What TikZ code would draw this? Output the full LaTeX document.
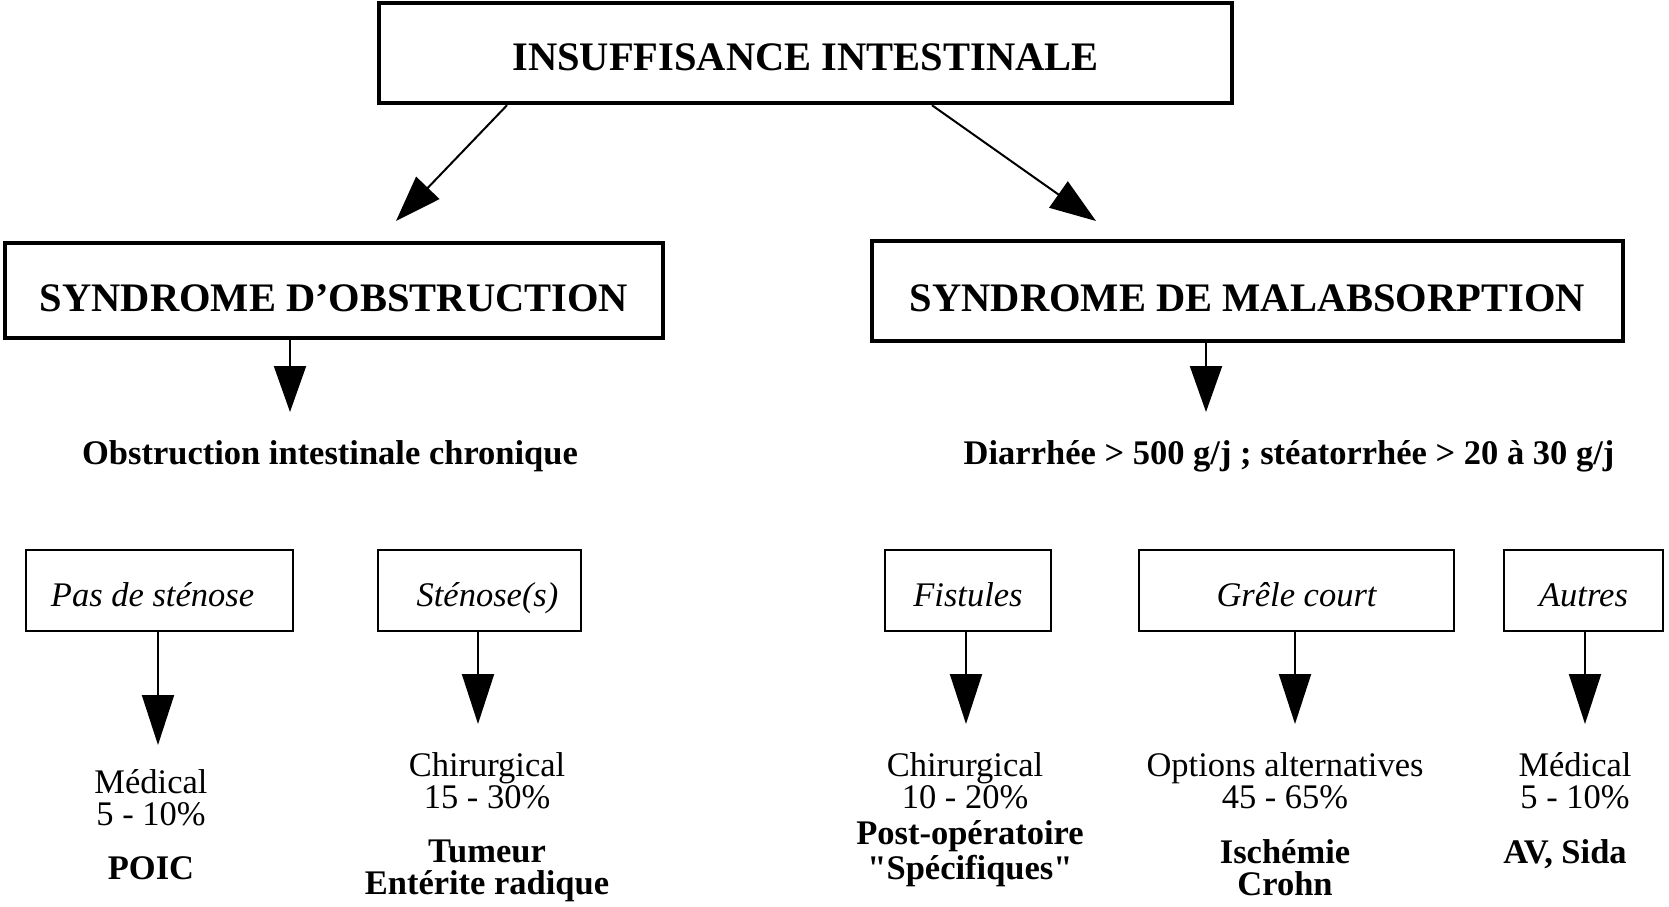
\documentclass[tikz,border=0pt]{standalone}
\usepackage{fontspec}
\setmainfont{Liberation Serif}
\usetikzlibrary{arrows.meta}
\tikzset{
  x=1pt, y=-1pt,
  bigbox/.style={draw, line width=4.5pt, inner sep=0pt, text depth=0pt,
     font=\fontsize{40.5}{44}\selectfont\bfseries},
  smallbox/.style={draw, line width=2pt, inner sep=0pt, minimum height=81pt,
     text height=31pt, text depth=0pt, font=\fontsize{34.5}{32}\selectfont\itshape},
  headtxt/.style={anchor=base, inner sep=0pt, font=\fontsize{34.5}{32}\selectfont\bfseries},
  regtxt/.style={anchor=base, inner sep=0pt, align=center, font=\fontsize{34.5}{32}\selectfont},
  boldtxt/.style={anchor=base, inner sep=0pt, align=center, font=\fontsize{34.5}{32}\selectfont\bfseries},
  arr/.style={line width=2pt, -{Triangle[length=46pt,width=32pt]}},
  arrlong/.style={line width=2pt, -{Triangle[length=50pt,width=32pt]}},
}
\begin{document}
\begin{tikzpicture}
\useasboundingbox (0,0) rectangle (1669,906);

% top level
\node[bigbox, minimum width=853pt, minimum height=100pt, text height=34pt] (top) at (805.5,53) {INSUFFISANCE INTESTINALE};

% second level
\node[bigbox, minimum width=658pt, minimum height=95pt, text height=41pt] (obs) at (334,290.5) {SYNDROME D’OBSTRUCTION};
\node[bigbox, minimum width=751pt, minimum height=100pt, text height=40pt] (mal) at (1247.5,291) {SYNDROME DE MALABSORPTION};

\coordinate (tl) at (396,221);
\coordinate (tr) at (1096,221);
\draw[arr] (top.south -| 507,0) -- (tl);
\draw[arr] (top.south -| 932,0) -- (tr);

\coordinate (dl) at (290,412);
\coordinate (dr) at (1206,412);
\draw[arr] (obs.south -| dl) -- (dl);
\draw[arr] (mal.south -| dr) -- (dr);

\node[headtxt] (obstxt) at (330,464) {Obstruction intestinale chronique};
\node[headtxt] (maltxt) at (1289,464) {Diarrhée > 500 g/j ; stéatorrhée > 20 à 30 g/j};

% third level boxes
\node[smallbox, minimum width=267pt] (psten) at (159.5,590.5) {\hspace*{-14pt}Pas de sténose};
\node[smallbox, minimum width=203pt] (sten) at (479.5,590.5) {\hspace*{16pt}Sténose(s)};
\node[smallbox, minimum width=166pt] (fist) at (968,590.5) {Fistules};
\node[smallbox, minimum width=315pt] (grele) at (1296.5,590.5) {Grêle court};
\node[smallbox, minimum width=159pt] (autres) at (1583.5,590.5) {Autres};

\coordinate (a1) at (158,745);
\coordinate (a2) at (478,724);
\coordinate (a3) at (966,724);
\coordinate (a4) at (1295,724);
\coordinate (a5) at (1585,724);
\draw[arrlong] (psten.south -| a1) -- (a1);
\draw[arrlong] (sten.south -| a2) -- (a2);
\draw[arrlong] (fist.south -| a3) -- (a3);
\draw[arrlong] (grele.south -| a4) -- (a4);
\draw[arrlong] (autres.south -| a5) -- (a5);

% texts (base anchor = baseline of last line)
\node[regtxt] (med1) at (151,825) {Médical\\5 - 10\%};
\node[boldtxt] (poic) at (151,879) {POIC};
\node[regtxt] (chir1) at (487,808) {Chirurgical\\15 - 30\%};
\node[boldtxt] (tum) at (487,894) {Tumeur\\Entérite radique};
\node[regtxt] (chir2) at (965,808) {Chirurgical\\10 - 20\%};
\node[boldtxt, font=\fontsize{34.5}{35}\selectfont\bfseries] (post) at (970,879) {Post-opératoire\\\textquotedbl Spécifiques\textquotedbl};
\node[regtxt] (opt) at (1285,808) {Options alternatives\\45 - 65\%};
\node[boldtxt] (isch) at (1285,895) {Ischémie\\Crohn};
\node[regtxt] (med2) at (1575,808) {Médical\\5 - 10\%};
\node[boldtxt] (av) at (1565,863) {AV, Sida};
\end{tikzpicture}
\end{document}
